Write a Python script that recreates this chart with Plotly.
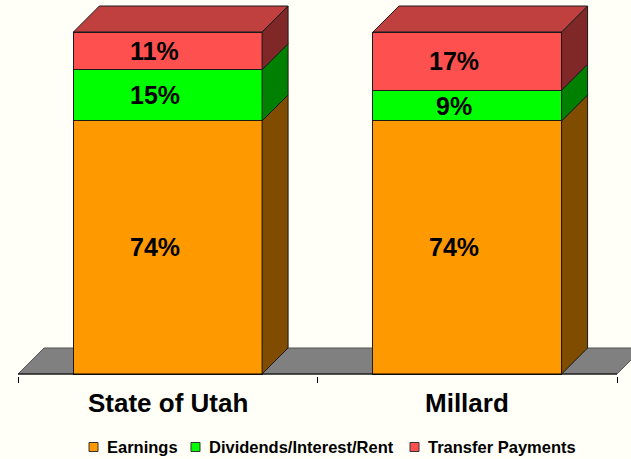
import plotly.graph_objects as go

# ---- data -------------------------------------------------------------
categories = ["State of Utah", "Millard"]
series_names = ["Earnings", "Dividends/Interest/Rent", "Transfer Payments"]
earnings = [74, 74]
dividends = [15, 9]
transfers = [11, 17]
series_values = [earnings, dividends, transfers]

# ---- styling ----------------------------------------------------------
front_colors = ["#FF9900", "#00FF00", "#FF5050"]
side_colors = ["#7F4C00", "#008000", "#802828"]
top_colors = ["#BF7300", "#00BF00", "#C04040"]
edge_color = "#1A1A1A"
floor_color = "#808080"
bg_color = "#FFFFF7"
font_family = "Liberation Sans, Arial, sans-serif"

W, H = 631, 459
axis_left_px, axis_right_px = 18, 617      # extent of the category axis
plot_bottom_px = 376                       # bottom edge of the plot area
zero_px = 374                              # pixel row of the value 0
full_px = 342                              # pixels spanned by 100 %
depth_px = 26                              # 3-D depth of bars / floor
bar_width = 0.63

# legend layout (pixel positions of each key square, row centre)
legend_key_px = [89, 191, 410]
legend_row_px = 447
legend_key_size = 9
legend_text_gap = 16

n = len(categories)
band_px = (axis_right_px - axis_left_px) / n
x_lo = -0.5 - axis_left_px / band_px
x_hi = -0.5 + (W - axis_left_px) / band_px
y_lo = -(plot_bottom_px - zero_px) / full_px * 100
y_hi = zero_px / full_px * 100
dx = depth_px / band_px
dy = depth_px / full_px * 100
x_cat = list(range(n))
half = bar_width / 2


def paper_x(px):
    return px / W


def paper_y(py):
    return (plot_bottom_px - py) / plot_bottom_px


fig = go.Figure()
for name, vals, col in zip(series_names, series_values, front_colors):
    fig.add_trace(go.Bar(
        x=x_cat, y=vals, name=name, width=bar_width,
        marker=dict(color=col, line=dict(color=edge_color, width=1)),
        hoverinfo="skip", showlegend=False,
    ))

shapes = []
# floor behind the bars
f0, f1 = -0.5, n - 0.5
shapes.append(dict(
    type="path", xref="x", yref="y", layer="below",
    path=f"M {f0},0 L {f1},0 L {f1+dx},{dy} L {f0+dx},{dy} Z",
    fillcolor=floor_color, line=dict(color="#555555", width=1),
))
# category baseline
shapes.append(dict(type="line", xref="x", yref="y", x0=f0, x1=f1, y0=0, y1=0,
                   line=dict(color="#000000", width=1), layer="above"))

annotations = []
for i in x_cat:
    x0, x1 = i - half, i + half
    base = 0
    for s, vals in enumerate(series_values):
        v = vals[i]
        y0, y1 = base, base + v
        # right-hand side face of the segment
        shapes.append(dict(
            type="path", xref="x", yref="y", layer="above",
            path=(f"M {x1},{y0} L {x1+dx},{y0+dy} L {x1+dx},{y1+dy} "
                  f"L {x1},{y1} Z"),
            fillcolor=side_colors[s], line=dict(color=edge_color, width=1),
        ))
        annotations.append(dict(
            x=i, y=(y0 + y1) / 2, xref="x", yref="y", text=f"{v}%",
            showarrow=False, xshift=-13,
            font=dict(family=font_family, size=25, color="#000000",
                      weight="bold"),
        ))
        base = y1
    # top face of the stack
    s = len(series_values) - 1
    shapes.append(dict(
        type="path", xref="x", yref="y", layer="above",
        path=(f"M {x0},{base} L {x0+dx},{base+dy} L {x1+dx},{base+dy} "
              f"L {x1},{base} Z"),
        fillcolor=top_colors[s], line=dict(color=edge_color, width=1),
    ))
    # category name under the axis
    annotations.append(dict(
        x=i, y=0, xref="x", yref="paper", text=categories[i],
        showarrow=False, yanchor="middle", yshift=-(403 - plot_bottom_px),
        font=dict(family=font_family, size=26, color="#000000",
                  weight="bold"),
    ))

# legend: coloured key squares with their series names
k = legend_key_size / 2
for name, col, kx in zip(series_names, front_colors, legend_key_px):
    shapes.append(dict(
        type="rect", xref="paper", yref="paper",
        x0=paper_x(kx), x1=paper_x(kx + legend_key_size),
        y0=paper_y(legend_row_px + k), y1=paper_y(legend_row_px - k),
        fillcolor=col, line=dict(color="#333333", width=1),
    ))
    annotations.append(dict(
        x=paper_x(kx + legend_text_gap), y=paper_y(legend_row_px),
        xref="paper", yref="paper", text=name, showarrow=False,
        xanchor="left", yanchor="middle",
        font=dict(family=font_family, size=16.5, color="#000000",
                  weight="bold"),
    ))

fig.update_layout(
    width=W, height=H,
    margin=dict(l=0, r=0, t=0, b=H - plot_bottom_px, pad=0,
                autoexpand=False),
    barmode="stack",
    paper_bgcolor=bg_color, plot_bgcolor=bg_color,
    xaxis=dict(range=[x_lo, x_hi], showgrid=False, zeroline=False,
               showline=False, tickmode="array",
               tickvals=[j - 0.5 for j in range(n + 1)],
               ticktext=["" for _ in range(n + 1)],
               ticks="outside", ticklen=6, tickcolor="#000000",
               tickwidth=1, fixedrange=True),
    yaxis=dict(range=[y_lo, y_hi], visible=False, fixedrange=True),
    shapes=shapes,
    annotations=annotations,
    showlegend=False,
)

fig.write_html("out.html")
